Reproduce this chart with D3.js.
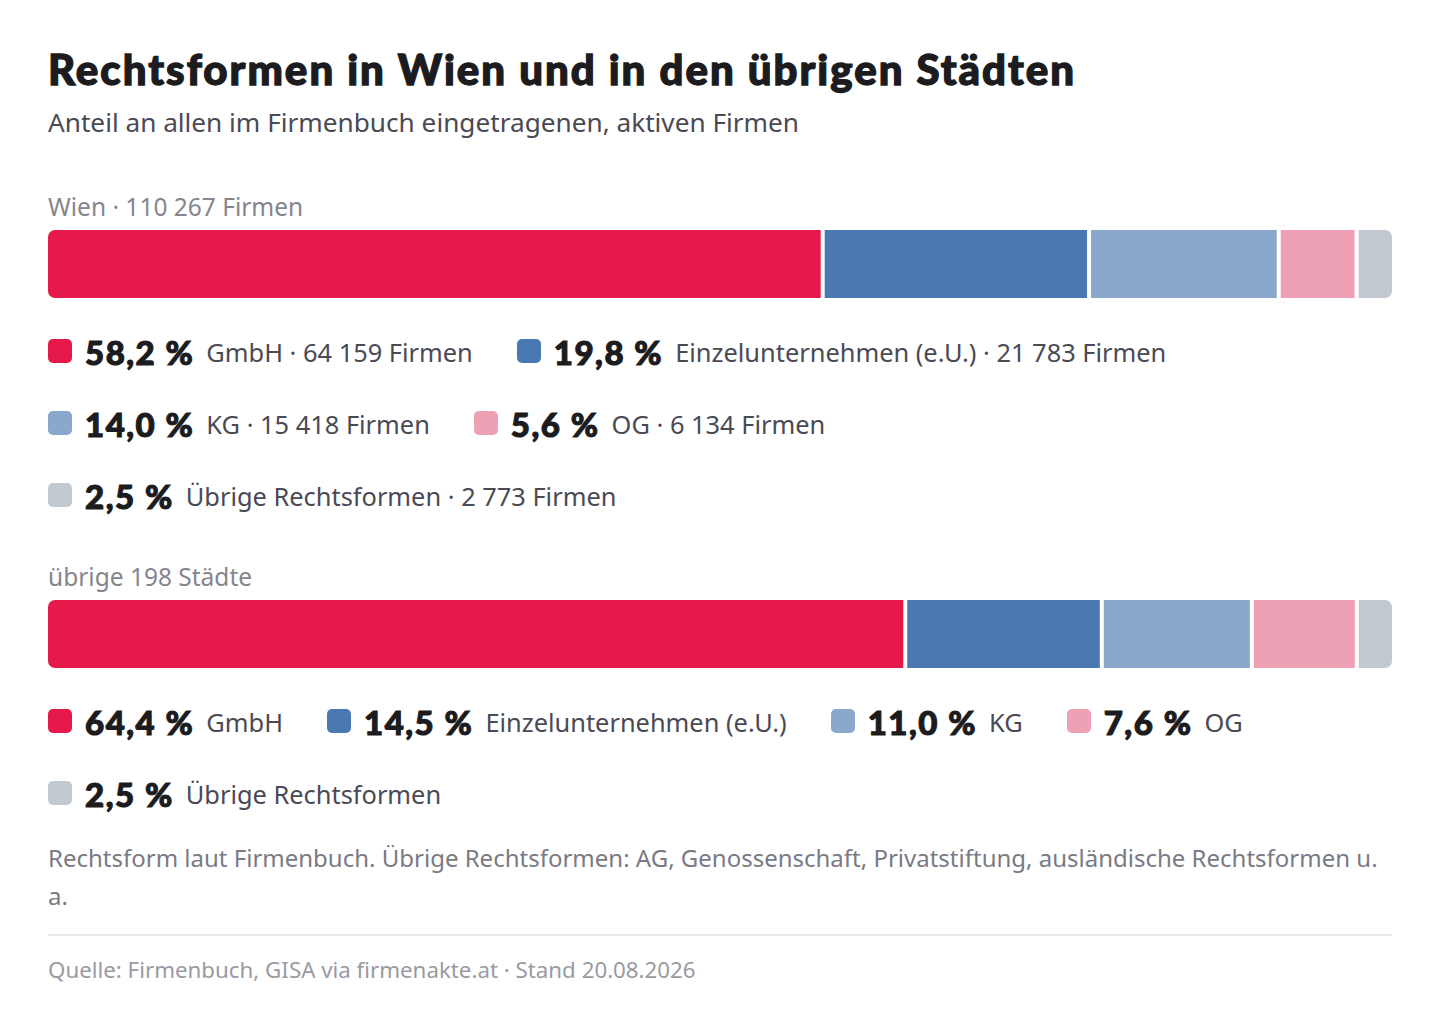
<!DOCTYPE html>
<html>
<head>
<meta charset="utf-8">
<script src="https://d3js.org/d3.v7.min.js"></script>
<style>
  body { margin: 0; background: #fff; font-family: "Noto Sans", "Open Sans", sans-serif; }
  .wrap { position: absolute; left: 48px; top: 0; width: 1344px; }
  .title { position: absolute; top: 44px; left: 0; font-family: Lato, "Noto Sans", sans-serif; font-weight: 900; font-size: 42px; color: #1c1c20; white-space: nowrap; letter-spacing: 2px; -webkit-text-stroke: 1.3px #1c1c20; }
  .subtitle { position: absolute; top: 104px; left: 0; font-size: 26.2px; color: #4a4a55; white-space: nowrap; }
  .glabel { position: absolute; left: 0; font-size: 24.5px; color: #85858e; white-space: nowrap; }
  .legend { position: absolute; left: 0; width: 1344px; display: flex; flex-wrap: wrap; column-gap: 44px; }
  .item { display: flex; align-items: center; height: 72px; white-space: nowrap; }
  .sw { width: 24px; height: 24px; border-radius: 5px; margin-right: 13px; margin-top: -3px; }
  .pct { font-family: Lato, "Noto Sans", sans-serif; font-weight: 900; font-size: 33px; letter-spacing: 1.5px; color: #1c1c20; margin-right: 12px; -webkit-text-stroke: 1.1px #1c1c20; }
  .lab { font-size: 25.4px; color: #4a4a55; }
  .note { position: absolute; left: 0; top: 839px; width: 1344px; font-size: 24px; line-height: 38px; color: #7a7a85; }
  .rule { position: absolute; left: 0; top: 934px; width: 1344px; height: 2px; background: #e8e8ee; }
  .src { position: absolute; left: 0; top: 954px; font-size: 22.3px; color: #9a9aa3; white-space: nowrap; }
  svg { position: absolute; left: 0; top: 0; }
</style>
</head>
<body>
<div class="wrap" id="chart">
  <div class="title">Rechtsformen in Wien und in den übrigen Städten</div>
  <div class="subtitle">Anteil an allen im Firmenbuch eingetragenen, aktiven Firmen</div>
  <div class="note">Rechtsform laut Firmenbuch. Übrige Rechtsformen: AG, Genossenschaft, Privatstiftung, ausländische Rechtsformen u. a.</div>
  <div class="rule"></div>
  <div class="src">Quelle: Firmenbuch, GISA via firmenakte.at · Stand 20.08.2026</div>
</div>
<script>
var forms = ["GmbH", "Einzelunternehmen (e.U.)", "KG", "OG", "Übrige Rechtsformen"];
var colors = ["#e5194a", "#4a78b3", "#8aa7cc", "#eea1b4", "#c3c9d1"];
var groups = ["Wien · 110 267 Firmen", "übrige 198 Städte"];
var wienFirmen = [64159, 21783, 15418, 6134, 2773];
var wienPct = [58.2, 19.8, 14.0, 5.6, 2.5];
var staedtePct = [64.4, 14.5, 11.0, 7.6, 2.5];

var W = 1344, barH = 68, gap = 4, rad = 7;
var layout = [
  {label: groups[0], labelTop: 190, barY: 230, legendTop: 316, values: wienFirmen, pct: wienPct, counts: wienFirmen},
  {label: groups[1], labelTop: 560, barY: 600, legendTop: 686, values: staedtePct, pct: staedtePct, counts: null}
];

var wrap = d3.select("#chart");
var svg = wrap.append("svg").attr("width", W).attr("height", 1016);
var defs = svg.append("defs");
var fmt = function(v) { return d3.format(".1f")(v).replace(".", ",") + " %"; };
var fmtN = function(v) { return d3.format(",")(v).replace(/,/g, " "); };

layout.forEach(function(g, gi) {
  wrap.append("div").attr("class", "glabel").style("top", g.labelTop + "px").text(g.label);

  var total = d3.sum(g.values);
  var x = d3.scaleLinear().domain([0, total]).range([0, W - gap * (g.values.length - 1)]);
  var cum = 0;
  var segs = g.values.map(function(v, i) {
    var s = {x0: x(cum) + i * gap, w: x(v), c: colors[i]};
    cum += v;
    return s;
  });

  defs.append("clipPath").attr("id", "clip" + gi)
    .append("rect").attr("x", 0).attr("y", g.barY).attr("width", W).attr("height", barH)
    .attr("rx", rad).attr("ry", rad);

  svg.append("g").attr("clip-path", "url(#clip" + gi + ")")
    .selectAll("rect").data(segs).enter().append("rect")
    .attr("x", function(d) { return d.x0; })
    .attr("y", g.barY)
    .attr("width", function(d) { return d.w; })
    .attr("height", barH)
    .attr("fill", function(d) { return d.c; });

  var leg = wrap.append("div").attr("class", "legend").style("top", g.legendTop + "px");
  var items = leg.selectAll(".item").data(forms).enter().append("div").attr("class", "item");
  items.append("div").attr("class", "sw").style("background", function(d, i) { return colors[i]; });
  items.append("span").attr("class", "pct").text(function(d, i) { return fmt(g.pct[i]); });
  items.append("span").attr("class", "lab").text(function(d, i) {
    return g.counts ? d + " · " + fmtN(g.counts[i]) + " Firmen" : d;
  });
});
</script>
</body>
</html>
